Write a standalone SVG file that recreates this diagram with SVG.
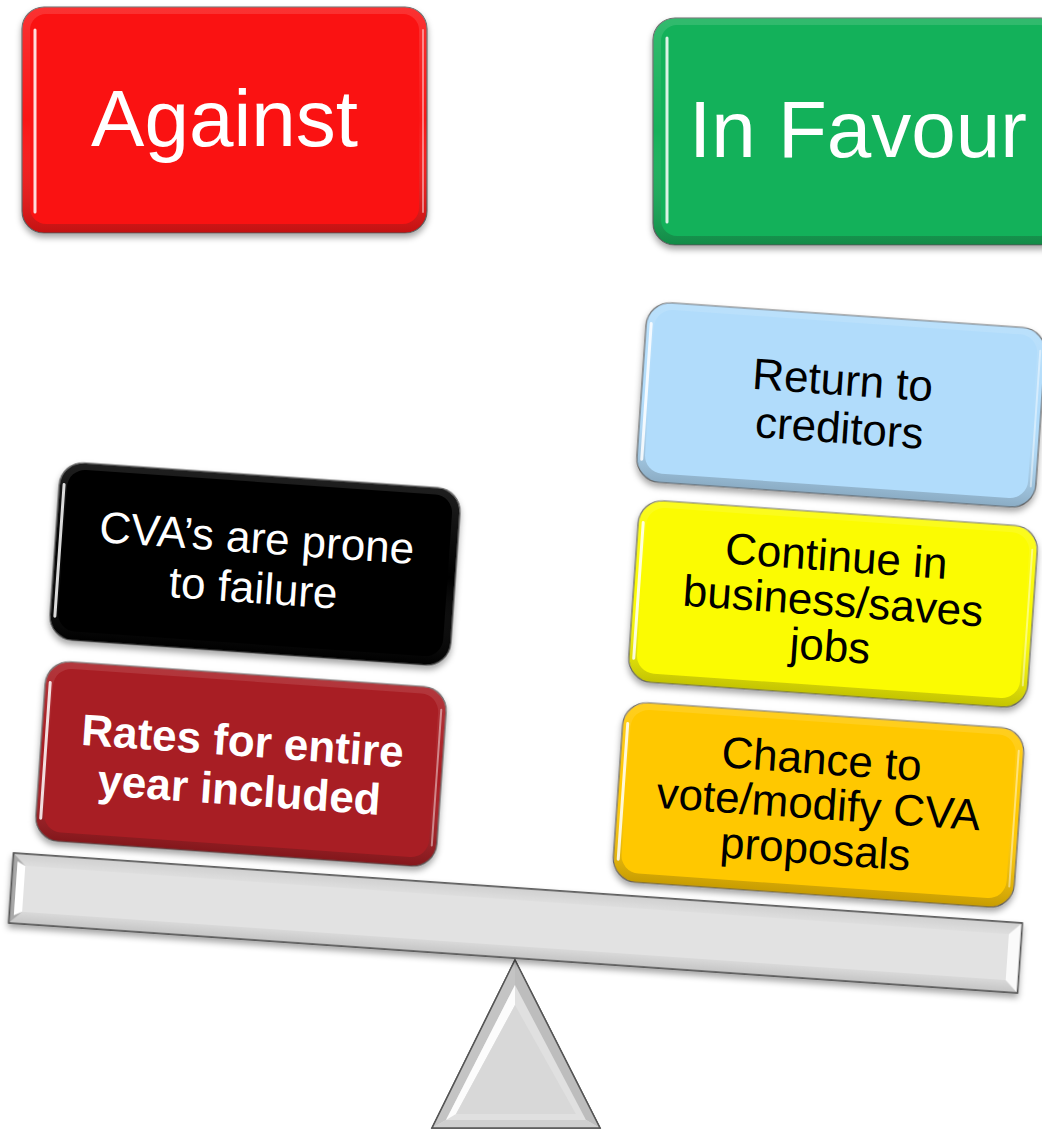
<svg xmlns="http://www.w3.org/2000/svg" width="1042" height="1129" viewBox="0 0 1042 1129">
  <defs>
    <filter id="shadow" x="-10%" y="-15%" width="120%" height="140%">
      <feDropShadow dx="0" dy="4" stdDeviation="3" flood-color="#000" flood-opacity="0.35"/>
    </filter>
    <linearGradient id="bevelShade" x1="0" y1="0" x2="0" y2="1">
      <stop offset="0" stop-color="#fff" stop-opacity="0.12"/>
      <stop offset="0.5" stop-color="#fff" stop-opacity="0"/>
      <stop offset="1" stop-color="#000" stop-opacity="0.22"/>
    </linearGradient>
    <linearGradient id="beamTop" x1="0" y1="0" x2="0" y2="1">
      <stop offset="0" stop-color="#cfcfcf"/>
      <stop offset="1" stop-color="#dedede"/>
    </linearGradient>
    <linearGradient id="beamBottom" x1="0" y1="0" x2="0" y2="1">
      <stop offset="0" stop-color="#d9d9d9"/>
      <stop offset="1" stop-color="#c4c4c4"/>
    </linearGradient>
  </defs>
  <style>
    .box { stroke: #6a6a6a; stroke-width: 1.2; }
    .shade { fill: url(#bevelShade); }
    .hl { fill: none; stroke: #fff; stroke-linecap: round; }
    .hl-l { stroke-width: 3; stroke-opacity: 0.85; }
    .hl-r { stroke-width: 2; stroke-opacity: 0.45; }
    text { font-family: "Liberation Sans", Arial, sans-serif; text-anchor: middle; }
    .title { font-size: 80px; fill: #fff; }
    .lbl { font-size: 44px; }
    .white { fill: #fff; }
    .black { fill: #000; }
    .bold { font-weight: bold; }
    .red { fill: #fa1212; }
    .green { fill: #13b15a; }
    .dark { fill: #000; }
    .maroon { fill: #a81e24; }
    .blue { fill: #b1dcfb; }
    .yellow { fill: #fbfb02; }
    .orange { fill: #ffc800; }
    .steel { fill: #e0e0e0; stroke: #555; stroke-width: 1.5; }
    .outline { fill: none; stroke: #555; stroke-width: 1.5; }
  </style>

  <!-- fulcrum -->
  <g id="fulcrum">
    <polygon class="steel" points="515,960 600,1128 432,1128"/>
    <polygon points="515,960 432,1128 446,1120 515,985" fill="#c4c4c4"/>
    <polygon points="515,985 446,1120 456,1114 515,1005" fill="#fff" opacity="0.9"/>
    <polygon points="515,960 600,1128 586,1120 515,985" fill="#bdbdbd"/>
    <polygon points="446,1120 586,1120 600,1128 432,1128" fill="#cfcfcf"/>
    <polygon points="515,1005 456,1114 576,1114" fill="#d8d8d8"/>
    <polygon class="outline" points="515,960 600,1128 432,1128"/>
  </g>

  <!-- beam -->
  <g id="beam" transform="translate(515.5 923) rotate(3.97)" filter="url(#shadow)">
    <rect class="steel" x="-505.5" y="-35" width="1011" height="70"/>
    <polygon points="-505.5,-35 505.5,-35 493,-23 -493,-23" fill="url(#beamTop)"/>
    <polygon points="-505.5,35 505.5,35 493,23 -493,23" fill="url(#beamBottom)"/>
    <polygon points="-505.5,-35 -493,-23 -493,23 -505.5,35" fill="#a8a8a8"/>
    <polygon points="-501,-27 -493,-23 -493,23 -501,27" fill="#fff"/>
    <polygon points="505.5,-35 493,-23 493,23 505.5,35" fill="#fafafa"/>
    <rect x="-493" y="-23" width="986" height="46" fill="#e2e2e2"/>
    <rect class="outline" x="-505.5" y="-35" width="1011" height="70"/>
  </g>

  <!-- headings -->
  <g id="against">
    <rect class="box red" x="22" y="7" width="405" height="226" rx="22" filter="url(#shadow)"/>
    <rect class="shade" x="22" y="7" width="405" height="226" rx="22"/>
    <rect class="red" x="30" y="14" width="389" height="210" rx="16"/>
    <path class="hl hl-l" d="M35,30 V212"/>
    <path class="hl hl-r" d="M423,30 V212"/>
    <text class="title" x="224.5" y="146">Against</text>
  </g>

  <g id="in-favour">
    <rect class="box green" x="653" y="18" width="410" height="227" rx="22" filter="url(#shadow)"/>
    <rect class="shade" x="653" y="18" width="410" height="227" rx="22"/>
    <rect class="green" x="661" y="25" width="394" height="211" rx="16"/>
    <path class="hl hl-l" d="M667,38 V222"/>
    <text class="title" x="858" y="157">In Favour</text>
  </g>

  <!-- left pan -->
  <g id="prone-to-failure" transform="translate(255 564) rotate(4)">
    <rect class="box dark" x="-201" y="-89" width="402" height="178" rx="24" filter="url(#shadow)"/>
    <rect class="shade" x="-201" y="-89" width="402" height="178" rx="24"/>
    <rect class="dark" x="-193" y="-82" width="386" height="162" rx="18"/>
    <path class="hl hl-l" d="M-196,-66 V66" stroke-opacity="0.35"/>
    <text class="lbl white" x="0" y="-11">CVA’s are prone</text>
    <text class="lbl white" x="0" y="39">to failure</text>
  </g>

  <g id="rates-included" transform="translate(241 764) rotate(4)">
    <rect class="box maroon" x="-201" y="-90" width="402" height="180" rx="24" filter="url(#shadow)"/>
    <rect class="shade" x="-201" y="-90" width="402" height="180" rx="24"/>
    <rect class="maroon" x="-193" y="-83" width="386" height="164" rx="18"/>
    <path class="hl hl-l" d="M-196,-68 V68" stroke-opacity="0.45"/>
    <path class="hl hl-r" d="M196,-68 V68"/>
    <text class="lbl white bold" x="0" y="-8">Rates for entire</text>
    <text class="lbl white bold" x="0" y="41">year included</text>
  </g>

  <!-- right pan -->
  <g id="return-to-creditors" transform="translate(841 405) rotate(4)">
    <rect class="box blue" x="-200" y="-90" width="400" height="180" rx="24" filter="url(#shadow)"/>
    <rect class="shade" x="-200" y="-90" width="400" height="180" rx="24"/>
    <rect class="blue" x="-192" y="-83" width="384" height="164" rx="18"/>
    <path class="hl hl-l" d="M-195,-68 V68"/>
    <path class="hl hl-r" d="M195,-68 V68"/>
    <text class="lbl black" x="0" y="-10">Return to</text>
    <text class="lbl black" x="0" y="38">creditors</text>
  </g>

  <g id="continue-in-business" transform="translate(833 604) rotate(4)">
    <rect class="box yellow" x="-200" y="-91" width="400" height="182" rx="24" filter="url(#shadow)"/>
    <rect class="shade" x="-200" y="-91" width="400" height="182" rx="24"/>
    <rect class="yellow" x="-192" y="-84" width="384" height="166" rx="18"/>
    <path class="hl hl-l" d="M-195,-68 V68"/>
    <path class="hl hl-r" d="M195,-68 V68"/>
    <text class="lbl black" x="0" y="-33">Continue in</text>
    <text class="lbl black" x="0" y="12">business/saves</text>
    <text class="lbl black" x="0" y="57">jobs</text>
  </g>

  <g id="chance-to-vote" transform="translate(818.5 805) rotate(4)">
    <rect class="box orange" x="-201" y="-90" width="402" height="180" rx="24" filter="url(#shadow)"/>
    <rect class="shade" x="-201" y="-90" width="402" height="180" rx="24"/>
    <rect class="orange" x="-193" y="-83" width="386" height="164" rx="18"/>
    <path class="hl hl-l" d="M-196,-68 V68"/>
    <path class="hl hl-r" d="M196,-68 V68"/>
    <text class="lbl black" x="0" y="-31">Chance to</text>
    <text class="lbl black" x="0" y="14">vote/modify CVA</text>
    <text class="lbl black" x="0" y="59">proposals</text>
  </g>
</svg>
